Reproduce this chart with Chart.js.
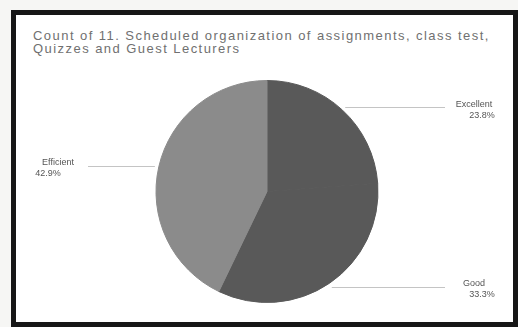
<!DOCTYPE html>
<html>
<head>
<meta charset="utf-8">
<script src="https://cdn.jsdelivr.net/npm/chart.js@4/dist/chart.umd.min.js"></script>
<style>
    html, body { margin: 0; padding: 0; background: #f6f6f4; }
    body { width: 518px; height: 327px; position: relative; overflow: hidden; }
    .frame {
        position: absolute; left: 11px; top: 10px; width: 507px; height: 317px;
        box-sizing: border-box; border: 5px solid #161616; background: #fff;
    }
    .title {
        position: absolute; left: 33px; top: 29px; width: 480px;
        font: 13px "Liberation Sans", Arial, sans-serif; color: #707070;
        letter-spacing: 1.45px; line-height: 13px;
    }
    #chart { position: absolute; left: 0; top: 0; }
</style>
</head>
<body>
<div class="frame"></div>
<div class="title">Count of 11. Scheduled organization of assignments, class test,<br>Quizzes and Guest Lecturers</div>
<canvas id="chart" width="518" height="327"></canvas>
<script>
// ---- dữ liệu ----
const categories = ['Excellent', 'Good', 'Efficient'];
const counts = [5, 7, 9];
const percentLabels = ['23.8%', '33.3%', '42.9%'];
const sliceColors = ['#595959', '#595959', '#8b8b8b'];

// nhãn + đường dẫn kiểu Excel
const leaderLabels = {
    id: 'leaderLabels',
    afterDraw(chart) {
        const ctx = chart.ctx;
        const arcs = chart.getDatasetMeta(0).data;
        ctx.save();
        arcs.forEach((arc, i) => {
            const { x, y, startAngle, endAngle, outerRadius } = arc.getProps(['x', 'y', 'startAngle', 'endAngle', 'outerRadius'], true);
            const a = (startAngle + endAngle) / 2;
            const ex = x + (outerRadius + 4) * Math.cos(a);
            const ey = y + (outerRadius + 4) * Math.sin(a);
            const right = Math.cos(a) >= 0;
            const lineEnd = right ? 445 : 88;
            ctx.strokeStyle = '#c4c4c4';
            ctx.lineWidth = 1;
            ctx.beginPath();
            ctx.moveTo(ex, Math.round(ey) + 0.5);
            ctx.lineTo(lineEnd, Math.round(ey) + 0.5);
            ctx.stroke();

            ctx.fillStyle = '#555';
            ctx.font = '9px "Liberation Sans", Arial, sans-serif';
            ctx.textBaseline = 'middle';
            ctx.textAlign = 'center';
            const cx = right ? 474 : 58;
            ctx.fillText(categories[i], cx, ey - 3);
            ctx.fillText(percentLabels[i], cx + (right ? 8 : -10), ey + 8);
        });
        ctx.restore();
    }
};

new Chart(document.getElementById('chart'), {
    type: 'pie',
    data: {
        labels: categories,
        datasets: [{
            data: counts,
            backgroundColor: sliceColors,
            borderColor: sliceColors,
            borderWidth: 1
        }]
    },
    options: {
        responsive: false,
        animation: false,
        layout: { padding: { top: 80, bottom: 24, left: 150, right: 134 } },
        plugins: {
            legend: { display: false },
            tooltip: { enabled: false }
        }
    },
    plugins: [leaderLabels]
});
</script>
</body>
</html>
